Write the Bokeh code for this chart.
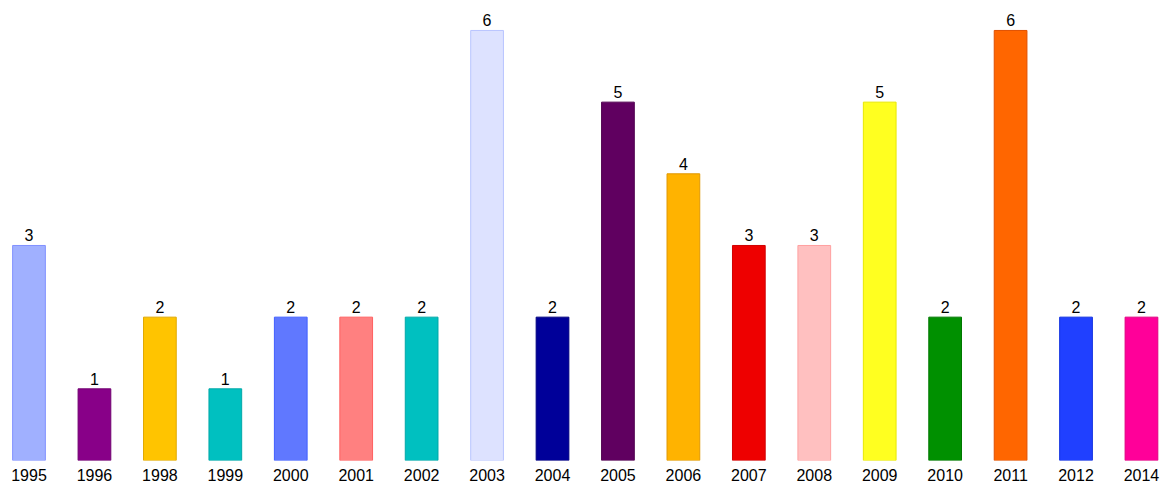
from bokeh.plotting import figure
from bokeh.models import ColumnDataSource, Range1d, FixedTicker, LabelSet
from bokeh.core.properties import value
from bokeh.embed import file_html
from bokeh.resources import INLINE

years = ["1995", "1996", "1998", "1999", "2000", "2001", "2002", "2003", "2004",
         "2005", "2006", "2007", "2008", "2009", "2010", "2011", "2012", "2014"]
counts = [3, 1, 2, 1, 2, 2, 2, 6, 2, 5, 4, 3, 3, 5, 2, 6, 2, 2]
fills = ["#a0b0ff", "#880088", "#ffc400", "#00c0c0", "#6078ff", "#ff8080",
         "#00c0c0", "#dde2ff", "#000099", "#600060", "#ffb300", "#ee0000",
         "#ffc0c0", "#ffff20", "#009000", "#ff6600", "#2040ff", "#ff0099"]
lines = ["#8090ff", "#700070", "#e0a800", "#00a8a8", "#4060ff", "#ff6060",
         "#00a8a8", "#b8c4ff", "#000080", "#500050", "#e09800", "#d00000",
         "#ffa0a0", "#e8e800", "#007800", "#e05000", "#1030e0", "#e00080"]

idx = list(range(len(years)))
src = ColumnDataSource(dict(x=idx, top=counts, fill=fills, line=lines,
                            label=[str(c) for c in counts]))

p = figure(width=1164, height=483, output_backend="svg", toolbar_location=None,
           x_range=Range1d(-0.4355, 17.352), y_range=Range1d(0, 6.418),
           min_border_left=0, min_border_right=0, min_border_top=0, min_border_bottom=0)
p.vbar(x="x", top="top", bottom=0, width=0.5, source=src,
       fill_color="fill", line_color="line", line_width=1)
labels = LabelSet(x="x", y="top", text="label", source=src, text_align="center",
                  text_baseline="bottom", y_offset=4, text_font=value("Liberation Sans"),
                  text_font_size=value("16px"), text_color=value("#000000"))
p.add_layout(labels)

p.outline_line_color = None
p.grid.visible = False
p.yaxis.visible = False
p.xaxis.ticker = FixedTicker(ticks=idx)
p.xaxis.major_label_overrides = {i: y for i, y in zip(idx, years)}
p.xaxis.axis_line_color = None
p.xaxis.major_tick_line_color = None
p.xaxis.minor_tick_line_color = None
p.xaxis.major_tick_out = 0
p.xaxis.major_tick_in = 0
p.xaxis.major_label_standoff = 8
p.xaxis.major_label_text_font = "Liberation Sans"
p.xaxis.major_label_text_font_size = "16px"
p.xaxis.major_label_text_color = "#000000"

open("out.html", "w").write(file_html(p, INLINE))
